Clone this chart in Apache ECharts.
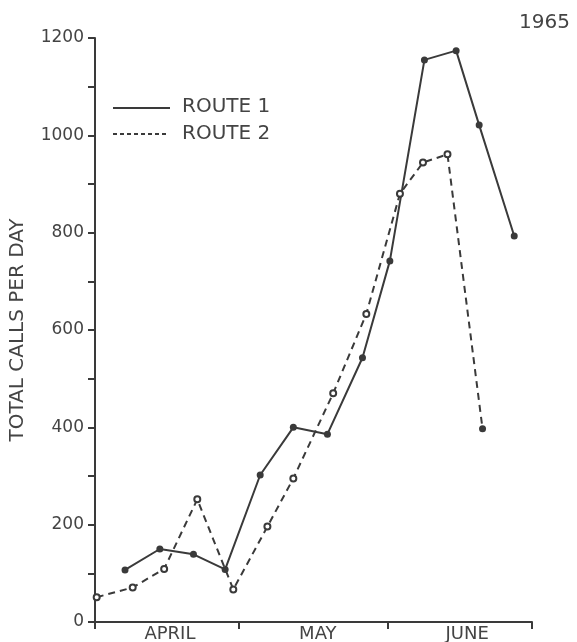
<!DOCTYPE html>
<html>
<head>
<meta charset="utf-8">
<script src="https://cdn.jsdelivr.net/npm/echarts@6/dist/echarts.min.js"></script>
<style>
html,body{margin:0;padding:0;background:#fff;}
#chart{width:577px;height:642px;}
</style>
</head>
<body>
<div id="chart"></div>
<script>
// Days counted from April 1
const monthNames = ['APRIL', 'MAY', 'JUNE'];
const monthStarts = [0, 30, 61, 91];
const monthCenters = [15.6, 46.4, 77.5];

const route1Days  = [6.25, 13.5, 20.5, 27.1, 34.4, 41.3, 48.4, 55.7, 61.4, 68.6, 75.2, 80.0, 87.3];
const route1Calls = [107, 150, 139, 108, 302, 400, 386, 543, 742, 1155, 1174, 1021, 793];

const route2Days  = [0.35, 7.85, 14.4, 21.3, 28.8, 35.9, 41.3, 49.6, 56.5, 63.5, 68.3, 73.4, 80.7];
const route2Calls = [51, 71, 109, 252, 67, 196, 295, 470, 633, 880, 944, 961, 397];

const yTicks = [0, 200, 400, 600, 800, 1000, 1200];

const ink = '#3a3a3a';
const textInk = '#444';
const font = 'DejaVu Sans';

const route1Data = route1Days.map((d, i) => [d, route1Calls[i]]);
const route2Data = route2Days.map((d, i) => {
  const item = { value: [d, route2Calls[i]] };
  if (i === route2Days.length - 1) {
    item.symbol = 'circle';
    item.symbolSize = 7;
    item.itemStyle = { color: ink, borderWidth: 0 };
  }
  return item;
});

const chart = echarts.init(document.getElementById('chart'));
chart.setOption({
  backgroundColor: '#fff',
  animation: false,
  title: {
    text: '1965',
    right: 2,
    top: 8,
    textStyle: { fontFamily: font, fontSize: 20, fontWeight: 'normal', color: textInk }
  },
  grid: { left: 95, right: 45, top: 38, bottom: 20, containLabel: false, outerBoundsMode: 'none' },
  xAxis: {
    type: 'value',
    min: monthStarts[0],
    max: monthStarts[monthStarts.length - 1],
    splitLine: { show: false },
    axisLine: { show: true, onZero: false, lineStyle: { color: ink, width: 2 } },
    axisTick: { show: true, length: 7, customValues: monthStarts, lineStyle: { color: ink, width: 2 } },
    axisLabel: {
      customValues: monthCenters,
      margin: 3,
      fontFamily: font,
      fontSize: 18,
      color: textInk,
      formatter: function (v) {
        for (let i = 0; i < monthNames.length; i++) {
          if (v >= monthStarts[i] && v < monthStarts[i + 1]) return monthNames[i];
        }
        return '';
      }
    }
  },
  yAxis: {
    type: 'value',
    min: yTicks[0],
    max: yTicks[yTicks.length - 1],
    interval: 200,
    name: 'TOTAL CALLS PER DAY',
    nameLocation: 'middle',
    nameRotate: 90,
    nameGap: 67,
    nameTextStyle: { fontFamily: font, fontSize: 20, color: textInk },
    splitLine: { show: false },
    axisLine: { show: true, lineStyle: { color: ink, width: 2 } },
    axisTick: { show: true, length: 7, lineStyle: { color: ink, width: 2 } },
    minorTick: { show: true, splitNumber: 2, length: 7, lineStyle: { color: ink, width: 2 } },
    axisLabel: {
      margin: 11, fontFamily: font, fontSize: 17, color: textInk,
      formatter: function (v) { return String(v); }
    }
  },
  series: [
    {
      name: 'ROUTE 1',
      type: 'line',
      data: route1Data,
      symbol: 'circle',
      symbolSize: 7,
      itemStyle: { color: ink },
      lineStyle: { color: ink, width: 2 }
    },
    {
      name: 'ROUTE 2',
      type: 'line',
      data: route2Data,
      symbol: 'emptyCircle',
      symbolSize: 6,
      itemStyle: { color: ink, borderWidth: 1.5 },
      lineStyle: { color: ink, width: 2, type: [7, 5] }
    }
  ],
  graphic: [
    { type: 'line', shape: { x1: 113, y1: 108, x2: 170, y2: 108 }, style: { stroke: ink, lineWidth: 2 } },
    { type: 'line', shape: { x1: 113, y1: 134, x2: 168, y2: 134 }, style: { stroke: ink, lineWidth: 2, lineDash: [4, 3] } },
    { type: 'text', left: 182, top: 97, style: { text: 'ROUTE 1', fontFamily: font, fontSize: 20, fill: textInk } },
    { type: 'text', left: 182, top: 124, style: { text: 'ROUTE 2', fontFamily: font, fontSize: 20, fill: textInk } }
  ]
});
</script>
</body>
</html>
